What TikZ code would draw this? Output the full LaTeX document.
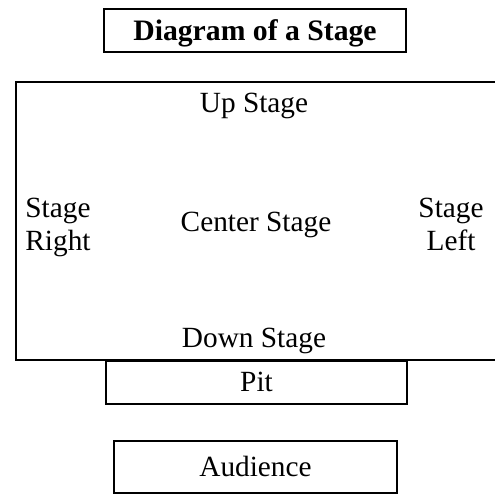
\documentclass[tikz,border=0pt]{standalone}
\usepackage{fontspec}
\setmainfont{Liberation Serif}
\begin{document}
\begin{tikzpicture}[x=1pt,y=-1pt,
  boxline/.style={draw=black,line width=1.6pt},
  lbl/.style={font=\fontsize{29.3}{33}\selectfont,inner sep=0pt,align=center},
  boxnode/.style={boxline,lbl,inner sep=0pt}]
\useasboundingbox (0,0) rectangle (494,494);
% title
\node[boxnode,minimum width=302pt,minimum height=43pt,text height=19.6pt,text depth=0pt,font=\fontsize{29.7}{33}\selectfont\bfseries] (title) at (255,30.5) {Diagram of a Stage};
% stage
\draw[boxline] (500,82) -- (16,82) -- (16,360) -- (500,360);
\node[lbl] (up) at (254,106) {Up Stage};
\node[lbl] (center) at (256,225) {Center Stage};
\node[lbl] (down) at (254,341) {Down Stage};
\node[lbl] (right) at (58,227) {\strut Stage\\\strut Right};
\node[lbl] (left) at (451,227) {\strut Stage\\\strut Left};
% pit
\node[boxnode,minimum width=301pt,minimum height=43pt,anchor=north] (pit) at (256.5,360) {Pit};
% audience
\node[boxnode,minimum width=283pt,minimum height=52pt,anchor=north] (aud) at (255.5,440) {Audience};
\end{tikzpicture}
\end{document}
